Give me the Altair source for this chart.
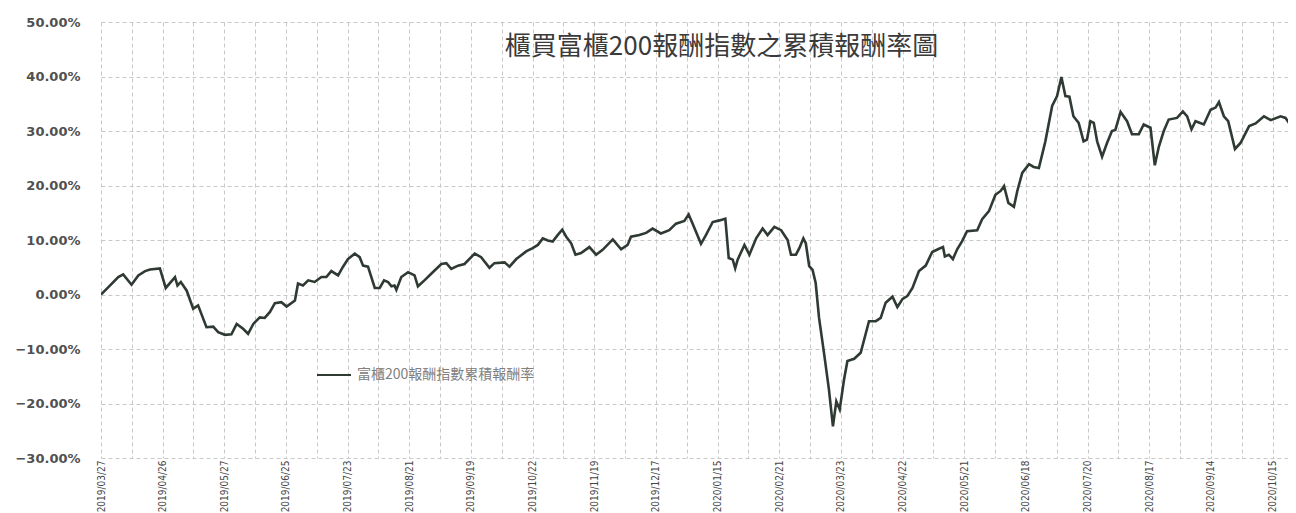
import altair as alt
import pandas as pd

title_text = "櫃買富櫃200報酬指數之累積報酬率圖"
series_name = "富櫃200報酬指數累積報酬率"

date_labels = [
    "2019/03/27", "2019/04/26", "2019/05/27", "2019/06/25", "2019/07/23",
    "2019/08/21", "2019/09/19", "2019/10/22", "2019/11/19", "2019/12/17",
    "2020/01/15", "2020/02/21", "2020/03/23", "2020/04/22", "2020/05/21",
    "2020/06/18", "2020/07/20", "2020/08/17", "2020/09/14", "2020/10/15",
]

# trading-day position (0 = 2019/03/27, labels every 20 trading days)
day_index = [
    0, 2.4, 5.6, 7.2, 9.9, 12.1, 14.3, 15.9, 19.1, 21, 24, 24.8, 25.9, 27.8,
    29.9, 31.5, 34.2, 36.4, 38, 40.2, 42.3, 44, 46.1, 47.7, 49.4, 51.5, 53.1,
    54.8, 56.4, 58.5, 60.2, 62.9, 63.9, 65.5, 67.2, 69.3, 71.5, 73.1, 74.7,
    76.9, 78.5, 80.1, 82.3, 83.9, 85, 86.6, 88.8, 90.4, 91.8, 93.1, 94.2,
    95.2, 95.8, 97.4, 99.6, 101.7, 102.8, 104.9, 107.1, 110.4, 112, 113.6,
    115.8, 117.9, 121.2, 123.3, 126, 127.6, 130.9, 132.5, 134.7, 137.9, 140,
    141.7, 143.3, 144.9, 146.5, 148.1, 149.6, 150.9, 152.5, 153.9, 155.7,
    158.4, 160.6, 162.7, 166, 168.7, 170.8, 171.9, 174.6, 176.8, 178.9,
    181.6, 184.3, 186.5, 189.2, 190.6, 191.9, 194.6, 196.2, 198.4, 200.6,
    202.5, 203.6, 204.9, 205.7, 206.5, 208.7, 210.3, 212.5, 214.6, 216.2,
    218.4, 220.6, 222.7, 223.8, 225.4, 226.5, 227.8, 228.6, 229.7, 230.8,
    231.8, 232.9, 234.5, 236.1, 237.4, 238.5, 239.6, 241, 242.1, 244.3,
    246.4, 249.1, 251.3, 252.9, 254.5, 256.7, 258.3, 260, 261.5, 263.2,
    265.3, 267.5, 269.6, 271.8, 273.1, 273.7, 275, 276.3, 277.7, 279.3,
    280.9, 284.2, 285.8, 288, 290.1, 291.8, 292.9, 294.3, 296.1, 297.2,
    298.8, 301, 302.5, 304.2, 306.3, 308.5, 310.1, 311.5, 312.8, 314.1,
    315.4, 317.1, 318.7, 319.8, 320.9, 322, 323.1, 324.7, 326.3, 327.9, 329,
    330.7, 332.8, 334.4, 336.6, 338.2, 340.4, 341.8, 343.1, 344.7, 346.3,
    349, 350.9, 352.3, 353.7, 355, 357.7, 359.9, 361.5, 362.6, 364.2, 365.6,
    367.8, 369.6, 372.4, 374.5, 377.2, 379.4, 382.6, 384.2, 385.9, 387.3,
]

# cumulative return, percent
cum_return = [
    0.0, 1.35, 3.2, 3.7, 1.8, 3.5, 4.3, 4.6, 4.8, 1.2, 3.2, 1.65, 2.3, 0.7,
    -2.6, -2.0, -6.0, -5.9, -6.9, -7.4, -7.3, -5.4, -6.3, -7.2, -5.4, -4.2,
    -4.3, -3.2, -1.6, -1.4, -2.2, -1.1, 2.0, 1.65, 2.6, 2.3, 3.2, 3.2, 4.3,
    3.5, 5.1, 6.5, 7.5, 6.85, 5.3, 5.1, 1.2, 1.2, 2.6, 2.3, 1.5, 1.65, 0.85,
    3.2, 4.1, 3.5, 1.5, 2.6, 3.8, 5.6, 5.75, 4.7, 5.3, 5.6, 7.5, 6.85, 4.9,
    5.75, 5.9, 5.1, 6.5, 7.9, 8.5, 9.1, 10.3, 9.9, 9.7, 10.9, 11.9, 10.6,
    9.4, 7.3, 7.6, 8.7, 7.3, 8.2, 10.1, 8.3, 9.1, 10.6, 10.9, 11.3, 12.1,
    11.2, 11.8, 13.0, 13.5, 14.7, 13.0, 9.3, 10.9, 13.3, 13.6, 13.9, 6.7,
    6.4, 4.8, 6.4, 9.1, 7.3, 10.3, 12.1, 10.9, 12.4, 11.8, 10.0, 7.3, 7.3,
    8.5, 10.3, 9.4, 5.2, 4.5, 2.1, -4.3, -10.7, -17.4, -24.2, -19.6, -21.1,
    -15.6, -12.2, -11.8, -10.7, -4.9, -4.9, -4.3, -1.5, -0.4, -2.3, -0.8,
    -0.3, 1.2, 4.3, 5.3, 7.8, 8.4, 8.7, 7.0, 7.3, 6.5, 8.3, 9.8, 11.6, 11.8,
    13.8, 15.3, 18.3, 19.0, 19.9, 16.8, 16.1, 19.0, 22.3, 23.9, 23.4, 23.2,
    28.1, 34.6, 36.4, 39.9, 36.4, 36.3, 32.7, 31.5, 28.1, 28.4, 31.8, 31.5,
    28.1, 25.3, 27.8, 30.0, 30.2, 33.5, 31.8, 29.4, 29.4, 31.2, 30.6, 23.7,
    27.1, 30.0, 32.1, 32.4, 33.6, 32.7, 30.3, 31.8, 31.2, 33.9, 34.3, 35.3,
    32.7, 31.8, 26.7, 27.8, 30.9, 31.4, 32.7, 32.0, 32.7, 32.4, 31.0, 31.2,
]

df = pd.DataFrame({"day": day_index, "ret": cum_return, "series": series_name})

label_js = "[" + ",".join("'" + d + "'" for d in date_labels) + "]"
x_label_expr = "datum.value % 20 == 0 ? " + label_js + "[datum.value / 20] : ''"

cjk = "Noto Sans CJK TC"
narrow = "Liberation Sans Narrow, DejaVu Sans Condensed, Roboto, sans-serif"

chart = alt.Chart(df).mark_line(strokeWidth=2.6, clip=True).encode(
    x=alt.X(
        "day:Q",
        scale=alt.Scale(domain=[0, 385], nice=False, zero=False),
        axis=alt.Axis(
            values=list(range(0, 381, 10)),
            labelExpr=x_label_expr,
            labelAngle=270,
            title=None,
            grid=True,
            ticks=False,
            domain=False,
            labelFont=narrow,
            labelFontSize=10,
            labelColor="#444444",
            labelPadding=2,
            labelOverlap=False,
            labelFlush=False,
        ),
    ),
    y=alt.Y(
        "ret:Q",
        scale=alt.Scale(domain=[-30, 50], nice=False),
        axis=alt.Axis(
            values=list(range(-30, 51, 10)),
            labelExpr="format(datum.value / 100, '.2%')",
            title=None,
            grid=True,
            ticks=False,
            domain=False,
            labelFont="DejaVu Sans",
            labelFontWeight="bold",
            labelFontSize=13,
            labelColor="#505050",
            labelPadding=21,
        ),
    ),
    color=alt.Color(
        "series:N",
        scale=alt.Scale(range=["#2f3a33"]),
        legend=alt.Legend(
            orient="none",
            legendX=215,
            legendY=335,
            title=None,
            symbolType="stroke",
            symbolSize=1156,
            symbolStrokeWidth=2,
            labelFont=cjk,
            labelFontSize=14,
            labelColor="#808080",
            labelOffset=5,
            labelLimit=0,
        ),
    ),
).properties(
    width=1187,
    height=436,
    padding={"left": 93, "top": 14, "right": 0, "bottom": 55},
    autosize=alt.AutoSizeParams(type="none"),
    title=alt.TitleParams(
        text=title_text,
        font=cjk,
        fontSize=26,
        fontWeight="normal",
        color="#3a3a3a",
        anchor="middle",
        frame="group",
        offset=0,
        dx=27,
        dy=44,
    ),
).configure_axis(
    gridColor="#c8c8c8",
    gridDash=[4, 3],
    gridWidth=1,
).configure_view(stroke=None)

chart.save("out.html", embed_options={"renderer": "svg", "actions": False})
